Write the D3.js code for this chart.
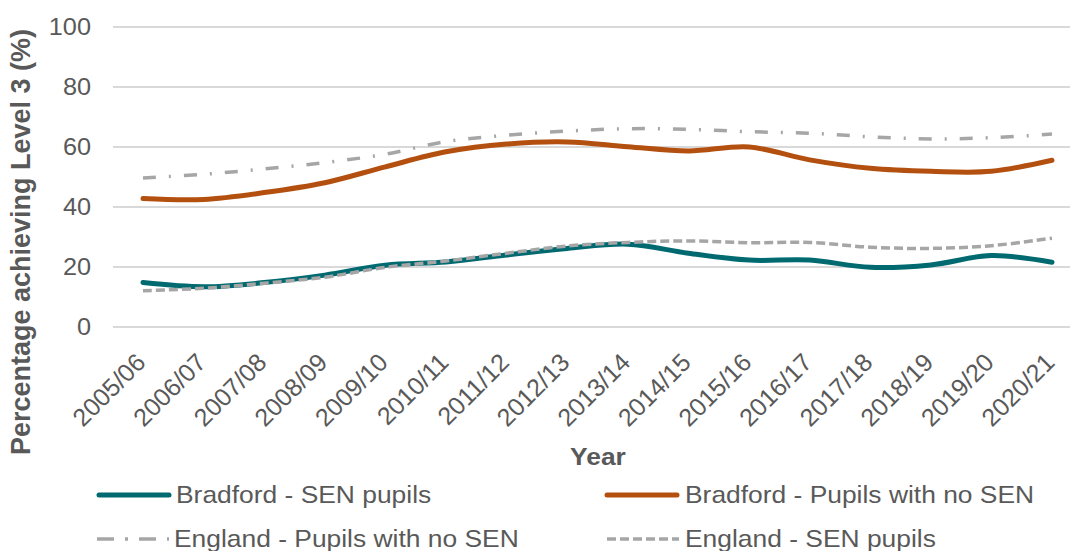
<!DOCTYPE html>
<html>
<head>
<meta charset="utf-8">
<script src="https://cdn.jsdelivr.net/npm/d3@7"></script>
<style>
  html, body { margin: 0; padding: 0; background: #fff; }
  svg { display: block; font-family: "Liberation Sans", Arial, sans-serif; }
</style>
</head>
<body>
<svg id="chart" width="1070" height="551"></svg>
<script>
// School years on the category axis
const years = ["2005/06","2006/07","2007/08","2008/09","2009/10","2010/11","2011/12","2012/13",
               "2013/14","2014/15","2015/16","2016/17","2017/18","2018/19","2019/20","2020/21"];

// Percentage achieving Level 3, by group
const bradfordSen   = [14.8, 13.4, 14.8, 17.3, 20.6, 21.7, 24.0, 26.2, 27.6, 24.6, 22.3, 22.3, 19.9, 20.7, 23.8, 21.6];
const bradfordNoSen = [42.8, 42.5, 44.8, 48.1, 53.4, 58.4, 61.0, 61.7, 60.1, 58.7, 60.0, 55.7, 52.9, 51.9, 51.9, 55.6];
const englandNoSen  = [49.7, 50.9, 52.7, 54.8, 57.6, 61.8, 63.9, 65.3, 66.1, 65.9, 65.1, 64.6, 63.4, 62.7, 63.1, 64.3];
const englandSen    = [12.1, 12.9, 14.6, 16.6, 19.9, 22.0, 24.6, 27.0, 28.2, 28.7, 28.1, 28.2, 26.6, 26.2, 27.1, 29.6];

const yTicks = [0, 20, 40, 60, 80, 100];

const teal = "#006a70", brown = "#b4500f", grey = "#a6a6a6", textGrey = "#595959";
const sx = 1.1; // slight horizontal widening of the text

const series = [
  { name: "Bradford - SEN pupils",        values: bradfordSen,   color: teal,  width: 5,   dash: null },
  { name: "Bradford - Pupils with no SEN", values: bradfordNoSen, color: brown, width: 5,   dash: null },
  { name: "England - Pupils with no SEN", values: englandNoSen,  color: grey,  width: 3.5, dash: "13,13,2,13" },
  { name: "England - SEN pupils",         values: englandSen,    color: grey,  width: 3.5, dash: "9,4" }
];

const svg = d3.select("#chart");

const x = d3.scalePoint().domain(years).range([143, 1052]);
const y = d3.scaleLinear().domain([0, 100]).range([327, 27]);

// Horizontal gridlines
svg.append("g").selectAll("line").data(yTicks).join("line")
  .attr("x1", 113).attr("x2", 1070)
  .attr("y1", d => y(d)).attr("y2", d => y(d))
  .attr("stroke", "#d9d9d9").attr("stroke-width", 2);

// Y tick labels
svg.append("g").selectAll("text").data(yTicks).join("text")
  .attr("transform", d => `translate(91,${y(d)}) scale(${sx},1)`)
  .attr("text-anchor", "end").attr("dy", "0.35em")
  .attr("font-size", 23).attr("fill", textGrey)
  .text(d => d);

// X tick labels, rotated 45 degrees, ending just right of each category
svg.append("g").selectAll("text").data(years).join("text")
  .attr("transform", d => `translate(${x(d) + 4},364) rotate(-45)`)
  .attr("text-anchor", "end")
  .attr("font-size", 25).attr("fill", textGrey)
  .text(d => d);

// Axis titles
svg.append("text")
  .attr("transform", `translate(598,465) scale(${sx},1)`)
  .attr("text-anchor", "middle").attr("font-size", 24).attr("font-weight", "bold")
  .attr("fill", textGrey).text("Year");

svg.append("text")
  .attr("transform", "translate(30,242) rotate(-90)")
  .attr("text-anchor", "middle").attr("font-size", 27).attr("font-weight", "bold")
  .attr("fill", textGrey).text("Percentage achieving Level 3 (%)");

// Data lines (smoothed)
const line = d3.line()
  .x((d, i) => x(years[i]))
  .y(d => y(d))
  .curve(d3.curveCatmullRom.alpha(0.5));

const drawOrder = [2, 0, 1, 3];
svg.append("g").selectAll("path").data(drawOrder.map(i => series[i])).join("path")
  .attr("d", d => line(d.values))
  .attr("fill", "none")
  .attr("stroke", d => d.color)
  .attr("stroke-width", d => d.width)
  .attr("stroke-dasharray", d => d.dash)
  .attr("stroke-linecap", d => d.dash ? "butt" : "round")
  .attr("stroke-linejoin", "round");

// Legend
const legendPos = [
  { lx: 99,  ly: 495 },
  { lx: 607, ly: 495 },
  { lx: 97,  ly: 539 },
  { lx: 607, ly: 539 }
];
const legend = svg.append("g").selectAll("g").data(series).join("g")
  .attr("transform", (d, i) => `translate(${legendPos[i].lx},${legendPos[i].ly})`);

legend.append("line")
  .attr("x1", 0).attr("x2", d => d.dash ? 72 : 70)
  .attr("y1", 0).attr("y2", 0)
  .attr("stroke", d => d.color)
  .attr("stroke-width", d => d.width)
  .attr("stroke-dasharray", d => d.dash ? (d.dash === "9,4" ? "9,4" : "17,11,3,11") : null)
  .attr("stroke-linecap", d => d.dash ? "butt" : "round");

legend.append("text")
  .attr("transform", (d, i) => `translate(${i % 2 === 0 ? 77 : 78},0) scale(1.1,1)`)
  .attr("dy", "0.35em")
  .attr("font-size", 24).attr("fill", textGrey)
  .text(d => d.name);
</script>
</body>
</html>
